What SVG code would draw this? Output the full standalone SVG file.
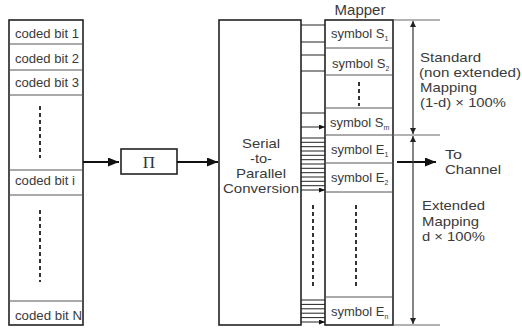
<svg xmlns="http://www.w3.org/2000/svg" width="522" height="331" viewBox="0 0 522 331">
<style>
.box{fill:#fff;stroke:#222;stroke-width:1.6}
.div{stroke:#555;stroke-width:1;fill:none}
.t{font-family:"Liberation Sans",Arial,sans-serif;fill:#3a3a3a}
.s13{font-size:13px}
.s15{font-size:15px}
.s14{font-size:13.5px}
.dash{stroke:#333;stroke-width:2;stroke-dasharray:4 3;fill:none}
.arr{stroke:#111;stroke-width:2;fill:none;marker-end:url(#big)}
.sm{stroke:#222;stroke-width:1;fill:none;marker-end:url(#small)}
.dim{stroke:#444;stroke-width:1.3;fill:none;marker-start:url(#dimS);marker-end:url(#dimE)}
.ext{stroke:#666;stroke-width:1;fill:none}
</style>
<defs>
<marker id="big" markerUnits="userSpaceOnUse" markerWidth="11" markerHeight="9" refX="11" refY="4.5" orient="auto"><path d="M0,0 L11,4.5 L0,9 z" fill="#111"/></marker>
<marker id="small" markerUnits="userSpaceOnUse" markerWidth="6" markerHeight="5" refX="6" refY="2.5" orient="auto"><path d="M0,0 L6,2.5 L0,5 z" fill="#111"/></marker>
<marker id="dimE" markerUnits="userSpaceOnUse" markerWidth="6" markerHeight="6" refX="6" refY="3" orient="auto"><path d="M0,0 L6,3 L0,6 z" fill="#222"/></marker>
<marker id="dimS" markerUnits="userSpaceOnUse" markerWidth="6" markerHeight="6" refX="0" refY="3" orient="auto"><path d="M6,0 L0,3 L6,6 z" fill="#222"/></marker>
</defs>

<g id="coded-bits">
<rect class="box" x="9" y="20" width="74" height="305"/>
<path class="div" d="M9,44H83M9,70H83M9,95H83M9,170H83M9,195H83M9,301H83"/>
<text class="t s13" x="15" y="38" textLength="64" lengthAdjust="spacingAndGlyphs">coded bit 1</text>
<text class="t s13" x="15" y="63" textLength="64" lengthAdjust="spacingAndGlyphs">coded bit 2</text>
<text class="t s13" x="15" y="87" textLength="64" lengthAdjust="spacingAndGlyphs">coded bit 3</text>
<text class="t s13" x="15" y="185" textLength="60" lengthAdjust="spacingAndGlyphs">coded bit i</text>
<text class="t s13" x="15" y="320" textLength="67" lengthAdjust="spacingAndGlyphs">coded bit N</text>
<path class="dash" d="M40,106V158M40,210V282"/>
</g>

<g id="interleaver">
<rect class="box" x="121" y="149" width="56" height="25"/>
<text x="149" y="168" text-anchor="middle" font-family="'Liberation Serif','Times New Roman',serif" font-size="17" fill="#333">Π</text>
</g>

<g id="serial-to-parallel">
<rect class="box" x="219" y="20" width="82" height="305"/>
<text class="t s14" text-anchor="middle" x="261" y="148" textLength="38" lengthAdjust="spacingAndGlyphs">Serial</text>
<text class="t s14" text-anchor="middle" x="261" y="163" textLength="22" lengthAdjust="spacingAndGlyphs">-to-</text>
<text class="t s14" text-anchor="middle" x="261" y="178" textLength="50" lengthAdjust="spacingAndGlyphs">Parallel</text>
<text class="t s14" text-anchor="middle" x="261" y="193" textLength="76" lengthAdjust="spacingAndGlyphs">Conversion</text>
</g>

<g id="mapper">
<text class="t s15" x="360" y="15" text-anchor="middle">Mapper</text>
<rect class="box" x="325" y="20" width="68" height="305"/>
<path class="div" d="M325,48H393M325,75H393M325,108H393M325,135H393M325,163H393M325,192H393M325,297H393"/>
<text class="t s13" x="331" y="38">symbol S<tspan font-size="7" dy="3">1</tspan></text>
<text class="t s13" x="332" y="68">symbol S<tspan font-size="7" dy="3">2</tspan></text>
<text class="t s13" x="330" y="127">symbol S<tspan font-size="7" dy="3">m</tspan></text>
<text class="t s13" x="331" y="154">symbol E<tspan font-size="7" dy="3">1</tspan></text>
<text class="t s13" x="331" y="182">symbol E<tspan font-size="7" dy="3">2</tspan></text>
<text class="t s13" x="331" y="316">symbol E<tspan font-size="7" dy="3">n</tspan></text>
<path class="dash" d="M359,82V106M356,205V287"/>
</g>

<g id="labels">
<text class="t s14" x="420" y="62" textLength="61" lengthAdjust="spacingAndGlyphs">Standard</text>
<text class="t s14" x="419" y="77" textLength="102" lengthAdjust="spacingAndGlyphs">(non extended)</text>
<text class="t s14" x="420" y="92" textLength="57" lengthAdjust="spacingAndGlyphs">Mapping</text>
<text class="t s14" x="420" y="107" textLength="86" lengthAdjust="spacingAndGlyphs">(1-d) × 100%</text>
<text class="t s14" x="445" y="159" textLength="17" lengthAdjust="spacingAndGlyphs">To</text>
<text class="t s14" x="445" y="174" textLength="56" lengthAdjust="spacingAndGlyphs">Channel</text>
<text class="t s14" x="422" y="210" textLength="63" lengthAdjust="spacingAndGlyphs">Extended</text>
<text class="t s14" x="422" y="226" textLength="57" lengthAdjust="spacingAndGlyphs">Mapping</text>
<text class="t s14" x="422" y="241" textLength="63" lengthAdjust="spacingAndGlyphs">d × 100%</text>
</g>

<g id="connectors">
<path class="arr" d="M83,162H119"/>
<path class="arr" d="M177,162H218"/>
<path class="arr" d="M397,162H436"/>
<path class="sm" d="M301,25H325M301,42H325M301,55H325M301,71H325M301,113H325M301,127H325"/>
<path class="sm" d="M301,138H325M301,142.3H325M301,146.7H325M301,151H325M301,155.3H325M301,159.7H325M301,164H325M301,168.3H325M301,172.7H325M301,177H325M301,181.3H325M301,185.7H325M301,190H325"/>
<path class="sm" d="M301,300H325M301,304.4H325M301,308.8H325M301,313.2H325M301,317.6H325M301,322H325"/>
<path class="dash" d="M313,205V287"/>
<path class="ext" d="M393,20H440M393,135H440M393,325H440"/>
<path class="dim" d="M413,21V134"/>
<path class="dim" d="M413,136V324"/>
</g>
</svg>
